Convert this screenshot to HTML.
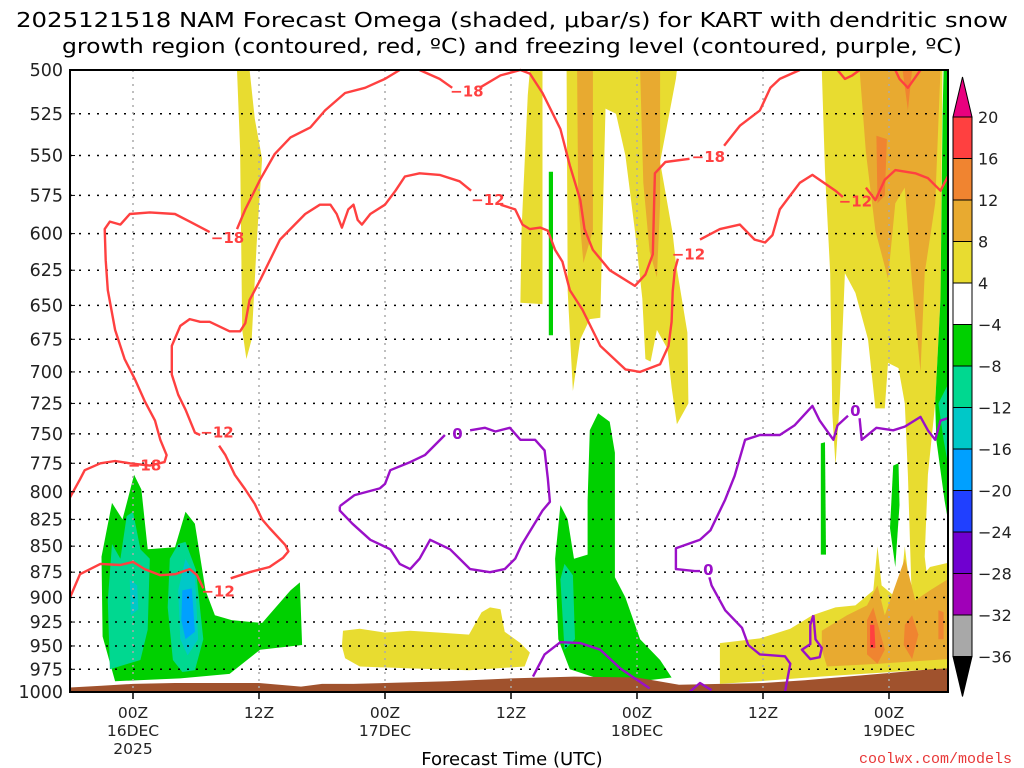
<!DOCTYPE html>
<html><head><meta charset="utf-8"><style>
html,body{margin:0;padding:0;background:#fff;}
svg{display:block;font-family:"DejaVu Sans","Liberation Sans",sans-serif;}
</style></head><body>
<svg id="chart" width="1024" height="768" viewBox="0 0 1024 768" xmlns="http://www.w3.org/2000/svg">
<text x="512" y="27" font-size="20" text-anchor="middle" textLength="992" lengthAdjust="spacingAndGlyphs">2025121518 NAM Forecast Omega (shaded, μbar/s) for KART with dendritic snow</text>
<text x="512" y="53" font-size="20" text-anchor="middle" textLength="900" lengthAdjust="spacingAndGlyphs">growth region (contoured, red, ºC) and freezing level (contoured, purple, ºC)</text>
<g id="shade"></g>
<g id="terrain"></g>
<g id="grid"></g>
<g id="contours"></g>
<g id="axes"></g>
<g id="cbar"></g>
<text x="512" y="765" font-size="18" text-anchor="middle">Forecast Time (UTC)</text>
<text x="1012" y="763" font-size="15" text-anchor="end" fill="#e83838" font-family="Liberation Mono, monospace">coolwx.com/models</text>
</svg>
<script>
// ---- data (hours since 18Z 15 Dec, pressure hPa) ----
const pLevels=[500,525,550,575,600,625,650,675,700,725,750,775,800,825,850,875,900,925,950,975,1000];
const xTickHours=[6,18,30,42,54,66,78];
const xTickLabels=[["00Z","16DEC","2025"],["12Z"],["00Z","17DEC"],["12Z"],["00Z","18DEC"],["12Z"],["00Z","19DEC"]];
const cbLevels=[20,16,12,8,4,-4,-8,-12,-16,-20,-24,-28,-32,-36];
const cbColors=["#ff4040","#f08430","#e8aa30","#e8dc30","#ffffff","#00d000","#00d890","#00c8c8","#00a0ff","#2040ff","#7000d0","#a000b8","#a8a8a8"];
const terrainHours=[0,3,6,10,14,18,22,24,27,30,36,42,48,54,58,62,66,70,74,78,82,83.6];
const terrainP=[995,993,991,990,990,990,994,991,991,990,988,985,983,984,992,991,990,987,983,979,975,974];
// shaded omega regions: value level + polygon [hour, hPa]
const yellowPolys=[
 [[15.9,500],[17.1,500],[17.6,528],[18.3,552],[17.8,604],[17.3,675],[16.8,690],[16.4,668],[16.2,546]],
 [[42.9,648],[43,598],[43.6,514],[43.8,500],[45,500],[45,533],[45,649]],
 [[47.3,500],[57.8,500],[57.7,505],[56.2,554],[57.4,600],[57.7,620],[58.8,670],[58.9,725],[57.8,742],[57.3,712],[56.9,682],[55.9,668],[55.3,692],[54.8,690],[54.5,645],[53.8,598],[52.9,550],[52,525],[51,522],[50.5,659],[49.5,660],[48.6,675],[47.9,715],[47.4,640]],
 [[26,934],[27.6,932],[30,936],[32.4,934],[35.2,936],[38,938],[39.2,915],[40,910],[41,912],[41.4,935],[42.9,947],[43.8,957],[43.3,972],[38,976],[32.4,974],[27.6,972],[26.2,963],[25.9,950]],
 [[71.6,500],[83.1,500],[82.9,645],[82.4,725],[81.7,785],[81.4,860],[81.9,903],[80.2,913],[79.8,785],[79.5,725],[78.9,697],[77.9,693],[77.6,729],[76.7,729],[76,675],[74.8,641],[73.8,627],[73.3,725],[72.9,777],[72.6,733],[72.4,627],[71.9,560]],
 [[61.9,947],[65.7,942],[68.6,932],[70.7,918],[72.9,910],[74.8,908],[76.5,893],[76.9,850],[77.3,888],[79,903],[79.5,850],[80,893],[81.9,870],[83.6,866],[83.6,974],[71.4,983],[65.7,988],[61.9,991]]
];
const lightOrangePolys=[
 [[48.3,500],[49.8,500],[49.8,598],[48.9,620],[48.4,580]],
 [[54.3,500],[56.2,500],[56.2,580],[55.9,630],[55.2,612],[54.6,567]],
 [[75.2,500],[82.9,500],[82.4,580],[81.4,627],[81,700],[80.2,635],[79.5,570],[78.6,580],[77.9,631],[76.7,598],[75.8,548]],
 [[71.6,934],[74,918],[75.9,908],[76.9,888],[77.6,918],[79.5,862],[80.5,903],[81.9,893],[83.6,882],[83.6,964],[77.1,969],[72.1,972],[71.6,954]]
];
const orangePolys=[
 [[76.8,538],[77.8,540],[77.6,575],[76.9,580]],
 [[79.3,500],[80.2,500],[79.8,523]],
 [[75.9,923],[76.5,910],[77.6,954],[76.9,969],[75.9,959]],
 [[79.5,928],[80.2,918],[80.8,938],[80.2,964],[79.4,949]],
 [[82.7,913],[83.2,915],[83.2,943],[82.7,943]]
];
const redPolys=[[[76.2,928],[76.6,928],[76.7,952],[76.2,952]]];
const greenPolys=[
 [[3.1,940],[3,860],[4,810],[5,825],[6.1,785],[6.8,798],[7.4,853],[10,851],[11,818],[11.9,829],[12.9,893],[13.8,918],[15.4,923],[18.3,926],[21,893],[21.9,885],[22.1,949],[18.1,954],[15.2,980],[10.5,985],[4.3,988]],
 [[49.5,747],[50.3,733],[51.4,740],[51.9,766],[51.9,880],[52.9,900],[54.3,943],[56.2,965],[57.3,984],[54.3,988],[50.5,986],[47.6,975],[46.5,943],[46.2,862],[46.7,812],[47.4,825],[48,862],[49.3,858],[49.3,808]],
 [[45.6,560],[46,560],[46,672],[45.6,672]],
 [[71.5,758],[71.9,757],[72,858],[71.5,858]],
 [[78.4,777],[78.9,775],[79,812],[78.6,870],[78.1,833]],
 [[83.2,500],[83.6,500],[83.6,825],[83.3,808],[82.5,755],[82.4,725],[82.9,645],[83.1,527]]
];
const tealPolys=[
 [[3.8,975],[3.6,903],[4,848],[4.8,862],[5.4,822],[6,818],[6.7,853],[7.6,862],[7.4,933],[6.7,965],[5.2,970]],
 [[9.5,862],[10.3,848],[11,846],[12,873],[12.7,943],[11.9,976],[10.7,978],[9.8,965],[9.3,910]],
 [[46.7,882],[47.1,867],[47.9,878],[48.1,943],[47.1,954]],
 [[82.7,725],[83.6,710],[83.6,775],[83.2,755]]
];
const cyanPolys=[
 [[10.3,893],[11,862],[11.9,878],[12.2,943],[11.2,960],[10.5,943]],
 [[5.7,882],[6.4,888],[6.5,912],[5.8,918]]
];
const bluePolys=[[[10.7,893],[11.6,891],[11.9,935],[11,943],[10.6,923]]];
// contours
const red18Lines=[
 [[0,805],[0.95,789],[1.4,781],[2.9,775],[4.3,773],[5.7,775],[7.6,777],[9,774],[9.2,768],[8.6,755],[8.1,739],[7.1,723],[6.2,706],[5.2,690],[4.3,668],[3.6,639],[3.4,618],[3.3,597],[3.8,592],[4.8,594],[5.7,587],[7.6,586],[10,587],[11.4,592],[13.3,599]],
 [[15.9,597],[16.7,584],[18.1,565],[19.5,549],[21,539],[22.9,533],[24.3,523],[26.2,513],[28.1,510],[30,505],[31.4,500]],
 [[33.3,500],[35.2,505],[36.4,510]],
 [[39,510],[41,503],[42.9,500],[43.8,502],[45,513],[46.7,534],[47.6,556],[48.6,578],[49,597],[49.8,611],[51.4,625],[53.8,636],[54.8,628],[55.5,614],[55.7,561],[56.7,554],[59,552]],
 [[62.3,544],[63.8,532],[65.7,523],[66.7,510],[67.6,505],[69.5,500]],
 [[78.6,500],[79,505],[79.8,510],[80.4,505],[81,500]],
 [[73.1,500],[73.8,505],[74.5,503],[75.2,500]]
];
const red12Lines=[
 [[0,900],[0.95,877],[2.9,867],[4.8,868],[6,865],[7.1,872],[8.6,878],[10,877],[11.4,872],[12.1,878],[12.7,891]],
 [[15.3,881],[17.1,875],[19,870],[20.3,861],[20.8,855],[20.5,849],[19,833],[18.3,825],[17.6,811],[16.7,798],[15.7,785],[14.8,768],[14.2,760]],
 [[12.4,751],[11.9,749],[11,730],[10.3,718],[9.7,702],[9.7,680],[10.5,665],[11.4,660],[12.4,662],[13.3,662],[15.2,669],[16.2,669],[16.7,663],[17.1,646],[18.1,632],[20,604],[22.4,587],[23.8,581],[24.8,581],[25.4,587],[25.9,596],[26.5,584],[27,581],[27.4,591],[27.8,594],[28.6,587],[30,581],[31,572],[31.9,563],[33.3,561],[35.2,562],[37.1,566],[38.2,572]],
 [[41,581],[42.4,584],[43.1,594],[43.8,597],[44.8,596],[45.5,598],[46.2,611],[46.9,619],[47.6,639],[48.8,653],[50.5,680],[52.9,698],[54.3,700],[56.2,694],[57,680],[57.3,662],[57.4,640],[57.6,625],[57.9,617]],
 [[60,604],[61.9,597],[63.8,594],[65.2,604],[66.2,606],[66.9,601],[67.6,584],[68.6,575],[69.5,567],[70.7,562],[72.9,572],[73.6,576]],
 [[75.8,570],[76.7,578],[77.6,565],[78.6,559],[80.5,561],[81.7,564],[82.9,572],[83.6,563]]
];
const purpleLines=[
 [[25.7,813],[27.1,803],[29.5,797],[30,793],[30.5,781],[32.4,774],[33.8,768],[35.7,751]],
 [[38.1,747],[39.5,745],[40.5,748],[41.9,745],[42.9,755],[44.3,755],[45.2,764],[45.5,788],[45.7,809],[45,817],[43,849],[42.4,862],[41.4,872],[40,875],[38.1,872],[36.2,853],[34.3,844],[33.3,862],[32.4,872],[31.4,867],[30.5,853],[28.6,844],[26.9,829],[25.7,817],[25.7,813]],
 [[44.1,983],[45.2,959],[46.7,946],[48.6,947],[50.5,954],[52.4,974],[55.2,996]],
 [[59,1000],[60,990],[61.1,998]],
 [[68.1,1000],[68.6,969],[68.1,961],[65.7,959],[64.6,949],[64,931],[62.4,913],[61.1,888],[60.9,880]],
 [[60,874],[59.5,874],[57.7,872],[57.7,852],[60,844],[61,835],[62.4,807],[63.3,786],[64.3,755],[65.7,751],[67.6,751],[69,743],[70.7,727],[71.4,739],[72.7,755],[73.1,743],[74.1,735]],
 [[75.2,737],[75.4,755],[76.8,745],[78.4,747],[79.5,744],[81,736],[81.7,747],[82.4,755],[82.9,739],[83.6,737]],
 [[70.8,918],[71,943],[71.6,952],[71.4,962],[70.5,964],[69.7,954],[70.5,948],[70.5,928],[70.8,918]]
];
const labelText=["−18","−18","−18","−18","−12","−12","−12","−12","−12","0","0","0"];
const labelHour=[15,37.8,60.8,7.1,14,14.1,39.8,58.9,74.8,36.9,60.8,74.8];
const labelP=[603,512,551,777,749,894,578,614,579,750,873,731];
const labelColor=["#ff4040","#ff4040","#ff4040","#ff4040","#ff4040","#ff4040","#ff4040","#ff4040","#ff4040","#9a10c8","#9a10c8","#9a10c8"];

// ---- axes ----
const L=70,R=948,T=70,B=692,HMAX=(R-L)/10.5;
function X(h){return L+h*(R-L)/HMAX;}
function Y(p){return T+(B-T)*Math.log(p/500)/Math.log(2);}
const NS="http://www.w3.org/2000/svg";
function mk(tag,parent,attrs){const e=document.createElementNS(NS,tag);for(const k in attrs)e.setAttribute(k,attrs[k]);parent.appendChild(e);return e;}
function pts(arr){return arr.map(d=>X(d[0]).toFixed(1)+","+Y(d[1]).toFixed(1)).join(" ");}

const shade=document.getElementById('shade');
function drawPolys(list,color,name){list.forEach(poly=>{const e=mk('polygon',shade,{points:pts(poly),fill:color});

});}
drawPolys(yellowPolys,"#e8dc30","omega-4-8");
drawPolys(lightOrangePolys,"#e8aa30","omega-8-12");
drawPolys(orangePolys,"#f08430","omega-12-16");
drawPolys(redPolys,"#ff4040","omega-16-20");
drawPolys(greenPolys,"#00d000","omega-neg4-neg8");
drawPolys(tealPolys,"#00d890","omega-neg8-neg12");
drawPolys(cyanPolys,"#00c8c8","omega-neg12-neg16");
drawPolys(bluePolys,"#00a0ff","omega-neg16-neg20");

// terrain
const terr=document.getElementById('terrain');
let tp=terrainHours.map((h,i)=>[h,terrainP[i]]);
tp.push([HMAX,1000]);tp.push([0,1000]);
const te=mk('polygon',terr,{points:pts(tp),fill:"#a0522d"});



// grid
const grid=document.getElementById('grid');
pLevels.forEach(p=>{if(p===500||p===1000)return;const e=mk('line',grid,{x1:L,x2:R,y1:Y(p),y2:Y(p),stroke:"#000","stroke-width":1.5,"stroke-dasharray":"2 7"});

});
xTickHours.forEach(h=>{const e=mk('line',grid,{x1:X(h),x2:X(h),y1:T,y2:B,stroke:"#aaa","stroke-width":1.5,"stroke-dasharray":"2 5"});

});

// contours
const cg=document.getElementById('contours');
function drawLines(list,color,name){list.forEach(l=>{const e=mk('polyline',cg,{points:pts(l),fill:"none",stroke:color,"stroke-width":2.4,"stroke-linejoin":"round"});

});}
drawLines(red18Lines,"#ff4040","contour-minus18");
drawLines(red12Lines,"#ff4040","contour-minus12");
drawLines(purpleLines,"#9a10c8","contour-freezing");
labelText.forEach((t,i)=>{const e=mk('text',cg,{x:X(labelHour[i]),y:Y(labelP[i])+5,"font-size":15,"font-weight":"bold","text-anchor":"middle",fill:labelColor[i]});e.textContent=t;

});

// axes
const ax=document.getElementById('axes');
const fr=mk('rect',ax,{x:L,y:T,width:R-L,height:B-T,fill:"none",stroke:"#000","stroke-width":2});


pLevels.forEach(p=>{const e=mk('text',ax,{x:63,y:Y(p)+6,"font-size":17.5,"text-anchor":"end",fill:"#222"});e.textContent=p;


const t=mk('line',ax,{x1:L,x2:L+5,y1:Y(p),y2:Y(p),stroke:"#000","stroke-width":1});

});
xTickHours.forEach((h,i)=>{const t=mk('line',ax,{x1:X(h),x2:X(h),y1:B,y2:B+7,stroke:"#000","stroke-width":1.5});


xTickLabels[i].forEach((s,j)=>{const e=mk('text',ax,{x:X(h),y:B+26+j*18,"font-size":15.5,"text-anchor":"middle",fill:"#222"});e.textContent=s;

});});

// colorbar
const cb=document.getElementById('cbar');
const cbx=953,cbw=19,cbTop=117,cbStep=41.5;
cbColors.forEach((c,i)=>{const e=mk('rect',cb,{x:cbx,y:cbTop+i*cbStep,width:cbw,height:cbStep,fill:c,stroke:"#000","stroke-width":1});

});
const tri1=mk('polygon',cb,{points:`${cbx},${cbTop} ${cbx+cbw},${cbTop} ${cbx+cbw/2},${cbTop-40}`,fill:"#e8007e",stroke:"#000"});


const cbBot=cbTop+cbColors.length*cbStep;
const tri2=mk('polygon',cb,{points:`${cbx},${cbBot} ${cbx+cbw},${cbBot} ${cbx+cbw/2},${cbBot+40}`,fill:"#000",stroke:"#000"});


cbLevels.forEach((v,i)=>{const e=mk('text',cb,{x:978,y:cbTop+i*cbStep+6,"font-size":16,fill:"#222"});e.textContent=v<0?"−"+(-v):String(v);

});
</script>
</body></html>
